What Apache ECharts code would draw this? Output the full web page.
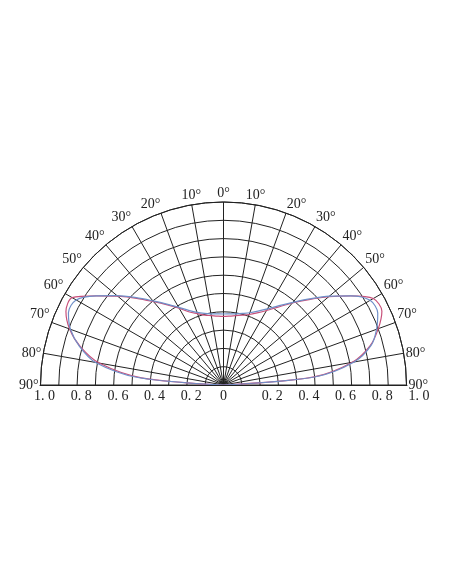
<!DOCTYPE html>
<html>
<head>
<meta charset="utf-8">
<script src="https://cdn.jsdelivr.net/npm/echarts@6/dist/echarts.min.js"></script>
<style>
  html, body { margin: 0; padding: 0; background: #fff; }
  #chart { width: 452px; height: 584px; }
</style>
</head>
<body>
<div id="chart"></div>
<script>
// angles in degrees from the vertical (negative = left), 5 deg steps
const angles = [-90, -85, -80, -75, -70, -65, -60, -55, -50, -45, -40, -35, -30, -25, -20, -15, -10, -5,
  0, 5, 10, 15, 20, 25, 30, 35, 40, 45, 50, 55, 60, 65, 70, 75, 80, 85, 90];

// relative intensity, red curve
const redValues = [0, 0.45, 0.69, 0.81, 0.895, 0.95, 0.955, 0.85, 0.755, 0.67, 0.595, 0.535, 0.485, 0.44, 0.415, 0.395, 0.385, 0.378,
  0.375, 0.378, 0.385, 0.395, 0.41, 0.435, 0.47, 0.52, 0.585, 0.66, 0.75, 0.85, 0.945, 0.955, 0.90, 0.83, 0.715, 0.49, 0];

// relative intensity, blue curve
const blueValues = [0, 0.47, 0.71, 0.815, 0.89, 0.935, 0.93, 0.85, 0.76, 0.675, 0.60, 0.54, 0.49, 0.45, 0.422, 0.405, 0.395, 0.39,
  0.388, 0.39, 0.395, 0.405, 0.42, 0.445, 0.48, 0.53, 0.59, 0.665, 0.755, 0.85, 0.925, 0.93, 0.89, 0.835, 0.725, 0.5, 0];

// radial scale labels along the base line
const radiusTicks = [-1, -0.8, -0.6, -0.4, -0.2, 0, 0.2, 0.4, 0.6, 0.8, 1];

const font = "'Liberation Serif', serif";
const chart = echarts.init(document.getElementById('chart'));

function pairs(vals) {
  return vals.map((v, i) => [v, angles[i]]);
}

const option = {
  backgroundColor: '#fff',
  animation: false,
  polar: {
    center: [223.5, 385],
    radius: 183
  },
  angleAxis: {
    type: 'value',
    min: -90,
    max: 90,
    interval: 10,
    startAngle: 180,
    endAngle: 0,
    clockwise: true,
    axisLine: { lineStyle: { color: '#222', width: 1 } },
    axisTick: { show: false },
    splitLine: { lineStyle: { color: '#222', width: 1 } },
    axisLabel: {
      margin: 2,
      color: '#222',
      fontSize: 14,
      fontFamily: font,
      formatter: v => Math.abs(v) + '°'
    }
  },
  radiusAxis: {
    type: 'value',
    min: 0,
    max: 1,
    interval: 0.1,
    axisLine: { show: false },
    axisTick: { show: false },
    axisLabel: { show: false },
    splitLine: { lineStyle: { color: '#222', width: 1 } }
  },
  grid: { left: 40, right: 45, top: 200, bottom: 199 },
  xAxis: {
    type: 'value',
    min: -1,
    max: 1,
    interval: 0.2,
    axisLine: { lineStyle: { color: '#222', width: 1 } },
    axisTick: { show: false },
    splitLine: { show: false },
    axisLabel: {
      margin: 4,
      color: '#222',
      fontSize: 14,
      fontFamily: font,
      customValues: radiusTicks,
      formatter: v => {
        const a = Math.abs(v);
        if (a < 1e-6) return '0';
        const s = a.toFixed(1).replace('.', '. ');
        return v < 0 ? '{l|' + s + '}' : '{r|' + s + '}';
      },
      rich: {
        l: { padding: [0, 0, 0, 9], fontSize: 14, fontFamily: font, color: '#222' },
        r: { padding: [0, 0, 0, 24], fontSize: 14, fontFamily: font, color: '#222' }
      }
    }
  },
  yAxis: { type: 'value', show: false, min: 0, max: 1 },
  series: [
    {
      name: 'red',
      type: 'line',
      coordinateSystem: 'polar',
      data: pairs(redValues),
      smooth: 0.3,
      symbol: 'none',
      lineStyle: { color: '#c8507a', width: 1.2 },
      z: 3
    },
    {
      name: 'blue',
      type: 'line',
      coordinateSystem: 'polar',
      data: pairs(blueValues),
      smooth: 0.3,
      symbol: 'none',
      lineStyle: { color: '#6f8fc8', width: 1.2 },
      z: 4
    }
  ]
};

chart.setOption(option);
</script>
</body>
</html>
